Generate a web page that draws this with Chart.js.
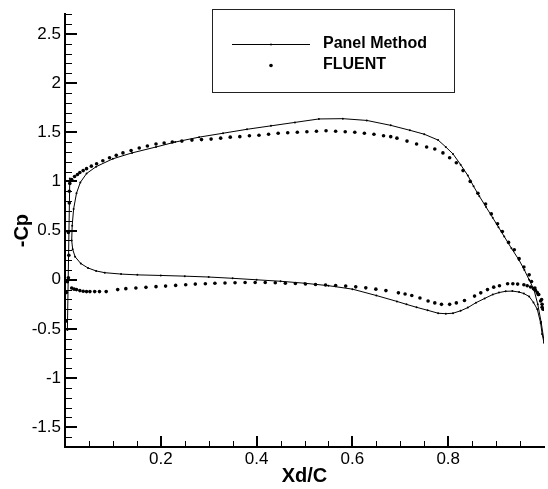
<!DOCTYPE html>
<html>
<head>
<meta charset="utf-8">
<script src="https://cdn.jsdelivr.net/npm/chart.js@4.4.1/dist/chart.umd.min.js"></script>
<style>
  html, body { margin: 0; padding: 0; background: #fff; overflow: hidden; }
  #wrap { width: 548px; height: 489px; position: relative; }
</style>
</head>
<body>
<div id="wrap"><canvas id="cp"></canvas></div>
<script>
// panel method: lower surface TE -> LE, round the nose, upper surface LE -> TE
// (null breaks the line before the stagnation segment)
const panelX = [
  1.0, 0.996, 0.993, 0.986, 0.978, 0.969, 0.958, 0.948, 0.934, 0.920,
  0.906, 0.893, 0.876, 0.858, 0.841, 0.826, 0.810, 0.795, 0.779, 0.757,
  0.734, 0.713, 0.693, 0.650, 0.600, 0.550, 0.500, 0.450, 0.400, 0.350,
  0.300, 0.250, 0.200, 0.151, 0.117, 0.083, 0.065, 0.048, 0.033, 0.021,
  0.016,
  0.014, 0.015, 0.018, 0.024, 0.032, 0.045, 0.065, 0.100, 0.140, 0.190,
  0.230, 0.280, 0.330, 0.380, 0.430, 0.480, 0.530, 0.580, 0.630, 0.680,
  0.720, 0.750, 0.779, 0.795, 0.810, 0.826, 0.841, 0.853, 0.865, 0.879,
  0.893, 0.905, 0.917, 0.932, 0.948, 0.959, 0.969, 0.979, 0.987, 0.994,
  1.0,
  null, 0.010, 0.005
];
const panelY = [
  -0.64, -0.55, -0.44, -0.30, -0.23, -0.17, -0.14, -0.125, -0.115, -0.117,
  -0.13, -0.15, -0.19, -0.233, -0.283, -0.315, -0.34, -0.345, -0.34, -0.31,
  -0.28, -0.25, -0.22, -0.16, -0.095, -0.06, -0.035, -0.015, 0.0, 0.015,
  0.028, 0.037, 0.044, 0.05, 0.058, 0.072, 0.09, 0.12, 0.165, 0.235,
  0.31,
  0.40, 0.55, 0.72, 0.88, 0.99, 1.08, 1.15, 1.23, 1.29, 1.35,
  1.40, 1.45, 1.49, 1.53, 1.565, 1.60, 1.635, 1.638, 1.62, 1.57,
  1.52, 1.48, 1.42, 1.35, 1.28, 1.17, 1.06, 0.95, 0.85, 0.74,
  0.63, 0.535, 0.44, 0.32, 0.2, 0.10, 0.0, -0.10, -0.25, -0.43,
  -0.62,
  null, 1.03, -0.51
];

// FLUENT surface points: nose, upper surface, lower surface
const fluentX = [
  0.002, 0.003, 0.005, 0.007, 0.008, 0.007, 0.009, 0.009, 0.010, 0.014,
  0.020, 0.026, 0.031, 0.038, 0.045, 0.055, 0.066, 0.079, 0.093, 0.107,
  0.121, 0.138, 0.155, 0.172, 0.190, 0.207, 0.224, 0.244, 0.265, 0.285,
  0.305, 0.325, 0.345, 0.365, 0.385, 0.405, 0.425, 0.445, 0.465, 0.485,
  0.505, 0.525, 0.545, 0.565, 0.585, 0.605, 0.625, 0.645, 0.665, 0.680,
  0.693, 0.714, 0.734, 0.755, 0.772, 0.789, 0.803, 0.817, 0.831, 0.846,
  0.862, 0.878, 0.890, 0.903, 0.913, 0.926, 0.938, 0.948, 0.958, 0.969,
  0.974, 0.981, 0.988, 0.993, 0.996,
  0.014, 0.019, 0.024, 0.031, 0.038, 0.045, 0.052, 0.062, 0.072, 0.086,
  0.110, 0.127, 0.148, 0.169, 0.190, 0.210, 0.231, 0.252, 0.272, 0.293,
  0.313, 0.334, 0.355, 0.376, 0.397, 0.418, 0.439, 0.460, 0.481, 0.502,
  0.523, 0.544, 0.565, 0.586, 0.607, 0.628, 0.649, 0.670, 0.696, 0.710,
  0.724, 0.741, 0.758, 0.772, 0.786, 0.803, 0.817, 0.834, 0.855, 0.868,
  0.882, 0.895, 0.907, 0.924, 0.935, 0.945, 0.958, 0.965, 0.972, 0.978,
  0.982, 0.986, 0.989, 0.995, 0.996, 0.998
];
const fluentY = [
  -0.42, -0.13, -0.02, 0.02, 0.25, 0.48, 0.78, 0.90, 0.98, 1.02,
  1.05, 1.07, 1.09, 1.11, 1.13, 1.155, 1.18, 1.21, 1.24, 1.265,
  1.29, 1.315, 1.34, 1.36, 1.38, 1.39, 1.40, 1.41, 1.42, 1.425,
  1.43, 1.44, 1.45, 1.455, 1.465, 1.47, 1.48, 1.49, 1.495, 1.50,
  1.505, 1.51, 1.515, 1.51, 1.505, 1.50, 1.49, 1.48, 1.465, 1.455,
  1.44, 1.41, 1.38, 1.35, 1.33, 1.29, 1.24, 1.19, 1.11, 1.00,
  0.88, 0.77, 0.67, 0.57, 0.49, 0.38, 0.305, 0.215, 0.13, 0.05,
  -0.017, -0.084, -0.15, -0.216, -0.28,
  -0.084, -0.095, -0.10, -0.11, -0.117, -0.12, -0.12, -0.12, -0.12, -0.12,
  -0.10, -0.09, -0.084, -0.077, -0.07, -0.064, -0.057, -0.05, -0.044, -0.04,
  -0.036, -0.032, -0.03, -0.028, -0.027, -0.028, -0.03, -0.034, -0.038, -0.043,
  -0.048, -0.053, -0.058, -0.064, -0.072, -0.082, -0.095, -0.11, -0.133, -0.145,
  -0.16, -0.185, -0.215, -0.235, -0.25, -0.25, -0.235, -0.21, -0.166, -0.133,
  -0.10, -0.075, -0.06, -0.04, -0.04, -0.044, -0.05, -0.06, -0.074, -0.09,
  -0.107, -0.13, -0.15, -0.2, -0.25, -0.3
];

const xTickLabels = [0.2, 0.4, 0.6, 0.8];
const yTickLabels = [-1.5, -1, -0.5, 0, 0.5, 1, 1.5, 2, 2.5];

const FONT = '"Liberation Sans", Arial, Helvetica, sans-serif';

const toPoints = (xs, ys) => xs.map((x, i) => ({ x: x, y: ys[i] }));

// tecplot style ticks, pointing into the plot
const innerTicks = {
  id: 'innerTicks',
  afterDraw(chart) {
    const { ctx, chartArea: a, scales } = chart;
    const xs = scales.x, ys = scales.y;
    ctx.save();
    ctx.strokeStyle = '#000';
    for (let i = 1; i < 20; i++) {
      const major = i % 4 === 0;
      const px = Math.round(xs.getPixelForValue(i / 20));
      ctx.lineWidth = major ? 2 : 1;
      ctx.beginPath();
      ctx.moveTo(px + (major ? 0 : 0.5), a.bottom);
      ctx.lineTo(px + (major ? 0 : 0.5), a.bottom - (major ? 11 : 6));
      ctx.stroke();
    }
    for (let i = -17; i <= 27; i++) {
      const major = i % 5 === 0;
      const py = Math.round(ys.getPixelForValue(i / 10));
      ctx.lineWidth = major ? 2 : 1;
      ctx.beginPath();
      ctx.moveTo(a.left, py + (major ? 0 : 0.5));
      ctx.lineTo(a.left + (major ? 12 : 7), py + (major ? 0 : 0.5));
      ctx.stroke();
    }
    ctx.restore();
  }
};

// boxed legend inside the plot
const boxLegend = {
  id: 'boxLegend',
  afterDraw(chart) {
    const ctx = chart.ctx;
    const ds = chart.data.datasets;
    ctx.save();
    ctx.fillStyle = '#fff';
    ctx.fillRect(212.5, 9.5, 242, 83);
    ctx.strokeStyle = '#222';
    ctx.lineWidth = 1;
    ctx.strokeRect(212.5, 9.5, 242, 83);

    ctx.strokeStyle = '#000';
    ctx.beginPath();
    ctx.moveTo(232, 44.5);
    ctx.lineTo(310, 44.5);
    ctx.stroke();
    ctx.fillStyle = '#000';
    ctx.beginPath();
    ctx.arc(271, 44.5, 1, 0, Math.PI * 2);
    ctx.fill();
    ctx.beginPath();
    ctx.arc(271, 65.5, 1.8, 0, Math.PI * 2);
    ctx.fill();

    ctx.font = 'bold 16px ' + FONT;
    ctx.textBaseline = 'middle';
    ctx.textAlign = 'left';
    ctx.fillText(ds[0].label, 323, 44);
    ctx.fillText(ds[1].label, 323, 65);
    ctx.restore();
  }
};

new Chart(document.getElementById('cp'), {
  type: 'scatter',
  data: {
    datasets: [
      {
        label: 'Panel Method',
        data: toPoints(panelX, panelY),
        showLine: true,
        spanGaps: false,
        borderColor: '#000',
        borderWidth: 1,
        backgroundColor: '#000',
        pointRadius: 1,
        pointBorderWidth: 0,
        tension: 0
      },
      {
        label: 'FLUENT',
        data: toPoints(fluentX, fluentY),
        showLine: false,
        backgroundColor: '#000',
        borderColor: '#000',
        pointRadius: 1.8,
        pointBorderWidth: 0
      }
    ]
  },
  options: {
    responsive: true,
    maintainAspectRatio: false,
    animation: false,
    layout: { padding: { top: 5, right: 0, bottom: 0, left: 0 } },
    plugins: {
      legend: { display: false },
      tooltip: { enabled: false }
    },
    scales: {
      x: {
        type: 'linear',
        min: 0,
        max: 1,
        afterBuildTicks: s => { s.ticks = xTickLabels.map(v => ({ value: v })); },
        afterFit: s => { s.height = 42; },
        grid: { display: false, drawTicks: false },
        border: { display: true, color: '#000', width: 2 },
        ticks: {
          padding: 2,
          color: '#000',
          font: { family: FONT, size: 17 },
          maxRotation: 0,
          callback: v => String(v)
        },
        title: {
          display: true,
          text: 'Xd/C',
          color: '#000',
          font: { family: FONT, size: 20, weight: 'bold' },
          padding: { top: 0, bottom: 1 }
        }
      },
      y: {
        type: 'linear',
        min: -1.7,
        max: 2.7,
        afterBuildTicks: s => { s.ticks = yTickLabels.map(v => ({ value: v })); },
        afterFit: s => { s.width = 65; },
        grid: { display: false, drawTicks: false },
        border: { display: true, color: '#000', width: 2 },
        ticks: {
          padding: 4,
          color: '#000',
          font: { family: FONT, size: 17 },
          callback: v => String(v)
        },
        title: {
          display: true,
          text: '-Cp',
          color: '#000',
          font: { family: FONT, size: 20, weight: 'bold' },
          padding: { top: 10, bottom: 0 }
        }
      }
    }
  },
  plugins: [innerTicks, boxLegend]
});
</script>
</body>
</html>
